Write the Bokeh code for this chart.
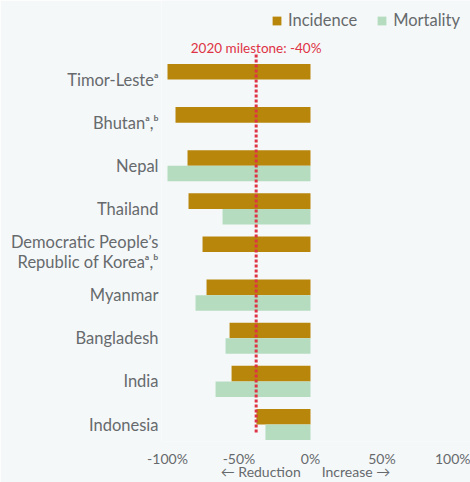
from bokeh.plotting import figure
from bokeh.models import Range1d, FixedTicker, Legend, LegendItem, ColumnDataSource
from bokeh.transform import dodge
from bokeh.core.properties import value
from bokeh.embed import file_html
from bokeh.resources import INLINE

# ---- data ----
countries = ["Timor-Leste\u1d43", "Bhutan\u1d43,\u1d47", "Nepal", "Thailand",
             "Democratic People\u2019s\nRepublic of Korea\u1d43,\u1d47",
             "Myanmar", "Bangladesh", "India", "Indonesia"]
incidence = [-100, -94.4, -86, -85.3, -75.5, -72.7, -56.6, -55.2, -37.8]
mortality = [None, None, -100, -61.5, None, -80.4, -59.4, -66.4, -31.5]
milestone_label = "2020 milestone: -40%"
milestone_drawn = -38
x_ticks = [-100, -50, 0, 50, 100]
x_tick_labels = ["-100%", "-50%", "0%", "50%", "100%"]

INC = "#b8860b"
MOR = "#b5dcbf"
RED = "#de3344"
TXT = "#666a6d"
BG = "#f5f8f9"
FONT = "Lato"

n = len(countries)
pos = [n - 1 - i for i in range(n)]

inc_src = ColumnDataSource(dict(y=pos, v=incidence))
mor_src = ColumnDataSource(dict(y=[p_ for p_, m in zip(pos, mortality) if m is not None],
                                v=[m for m in mortality if m is not None]))

p = figure(width=470, height=482, output_backend="svg", toolbar_location=None,
           x_range=Range1d(-104.2, 111.9), y_range=Range1d(-0.394, n - 1 + 1.832),
           min_border_left=161, min_border_right=0, min_border_top=0, min_border_bottom=0)
p.background_fill_color = BG
p.border_fill_color = BG
p.outline_line_color = None
p.xgrid.visible = False
p.ygrid.visible = False

r_inc = p.hbar(y=dodge("y", 0.18), right="v", left=0, height=0.36, source=inc_src,
               fill_color=INC, line_color=None)
r_mor = p.hbar(y=dodge("y", -0.18), right="v", left=0, height=0.36, source=mor_src,
               fill_color=MOR, line_color=None)

# milestone line and label
y_top = n - 1 + 0.58
p.segment(x0=[milestone_drawn], x1=[milestone_drawn], y0=[y_top], y1=[-0.21],
          line_color=RED, line_width=3, line_dash="3 2")
p.text(x=[milestone_drawn], y=[y_top + 0.16], text=[milestone_label],
       text_align="center", text_baseline="alphabetic", text_color=RED,
       text_font=value(FONT), text_font_size="13.5px")

# axes
xa = p.xaxis[0]
xa.ticker = FixedTicker(ticks=x_ticks)
xa.major_label_overrides = {t: l for t, l in zip(x_ticks, x_tick_labels)}
xa.axis_line_color = None
xa.major_tick_line_color = None
xa.minor_tick_line_color = None
xa.major_label_text_color = TXT
xa.major_label_text_font = FONT
xa.major_label_text_font_size = "14px"
xa.major_label_text_line_height = 1.0
xa.major_label_standoff = 2
xa.axis_label = "\u2190 Reduction\u2003\u2003Increase \u2192\u2003\u2003"
xa.axis_label_text_font = FONT
xa.axis_label_text_font_style = "normal"
xa.axis_label_text_font_size = "14px"
xa.axis_label_text_line_height = 1.0
xa.axis_label_text_color = TXT
xa.axis_label_standoff = -7

ya = p.yaxis[0]
ya.ticker = FixedTicker(ticks=pos)
ya.major_label_overrides = {pp: c for pp, c in zip(pos, countries)}
ya.axis_line_color = None
ya.major_tick_line_color = None
ya.minor_tick_line_color = None
ya.major_label_text_color = TXT
ya.major_label_text_font = FONT
ya.major_label_text_font_size = "16.5px"
ya.major_label_text_line_height = 1.0
ya.major_label_standoff = -3

legend = Legend(items=[LegendItem(label="Incidence", renderers=[r_inc]),
                       LegendItem(label="Mortality", renderers=[r_mor])],
                orientation="horizontal", location="top_right")
legend.background_fill_alpha = 0
legend.border_line_color = None
legend.margin = 10
legend.padding = 2
legend.spacing = 19
legend.glyph_width = 11
legend.glyph_height = 11
legend.label_standoff = 6
legend.label_text_font = FONT
legend.label_text_font_size = "16.5px"
legend.label_text_color = TXT
p.add_layout(legend)

open("out.html", "w").write(file_html(p, INLINE))
